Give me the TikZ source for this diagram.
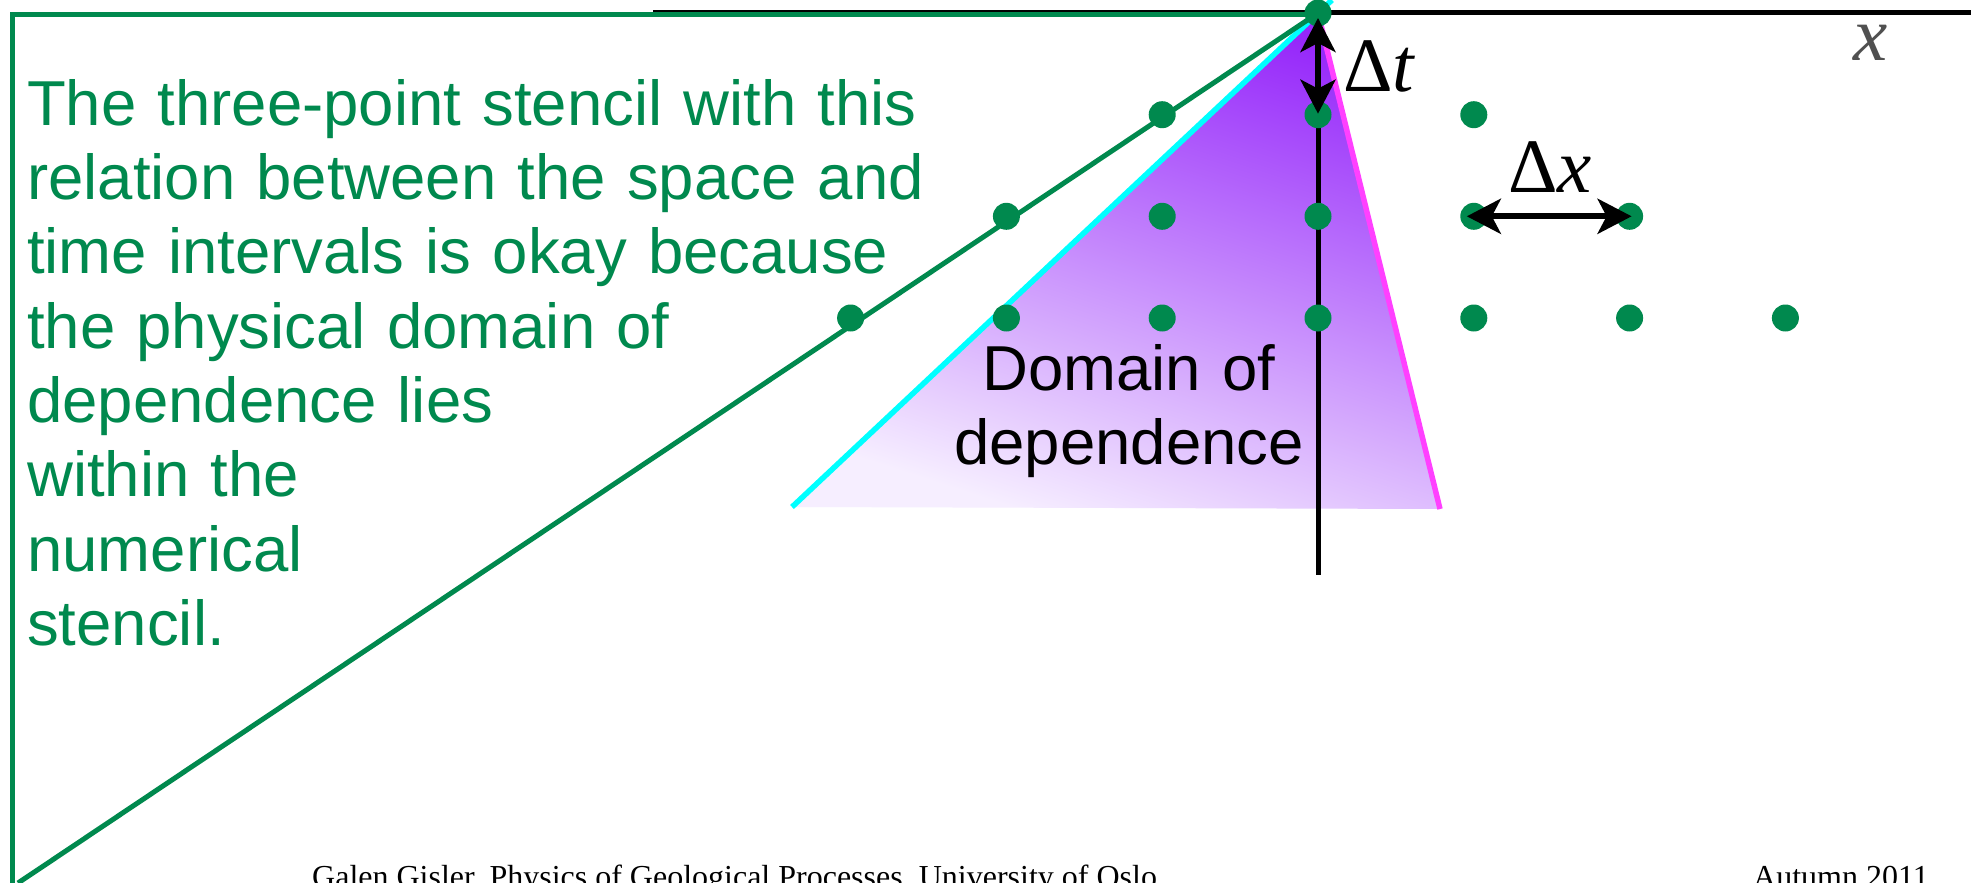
\documentclass[tikz,border=0pt]{standalone}
\usepackage{fontspec}
\setmainfont{Liberation Serif}
\newfontfamily\arialf{Liberation Sans}
\usetikzlibrary{arrows.meta}
\definecolor{sgreen}{RGB}{0,137,78}
\definecolor{ptop}{RGB}{150,40,250}
\definecolor{pmid}{RGB}{208,160,250}
\definecolor{pbot}{RGB}{246,238,255}
\definecolor{xgray}{RGB}{80,80,80}
\definecolor{cyanl}{RGB}{0,255,255}
\definecolor{magl}{RGB}{255,64,255}
\begin{document}
\begin{tikzpicture}[x=1pt,y=-1pt,
  dot/.style={circle,fill=sgreen,inner sep=0pt,minimum size=27pt},
  frameline/.style={draw=sgreen,line width=5pt},
  axisline/.style={draw=black,line width=5pt},
  edgeline/.style={line width=5.5pt},
  dbl/.style={line width=6pt,{Stealth[length=34pt,width=35pt,inset=9pt]}-{Stealth[length=34pt,width=35pt,inset=9pt]}},
  sans/.style={font=\arialf\fontsize{63.5}{74.4}\selectfont,inner sep=0pt},
  lbl/.style={font=\fontsize{77}{80}\selectfont,inner sep=0pt,anchor=base west},
  foot/.style={font=\fontsize{32}{36}\selectfont,inner sep=0pt,anchor=base west}]
\useasboundingbox (0,0) rectangle (1971,883);
\fill[white] (0,0) rectangle (1971,883);
% key points
\coordinate (A) at (1318,13);
\coordinate (BL) at (792,507);
\coordinate (BR) at (1440,509);
\coordinate (ctop) at (1332,0);
\coordinate (axL) at (653,13);
\coordinate (axR) at (1971,13);
\coordinate (fbl) at (12,883);
\coordinate (ftl) at (12,15);
\coordinate (ftr) at (1318,15);
\coordinate (vb) at (1318,575);
\coordinate (gd) at (18,883);
% domain of dependence
\shade[top color=ptop, middle color=pmid, bottom color=pbot, shading angle=-18] (A) -- (BL) -- (BR) -- cycle;
\draw[edgeline, draw=cyanl] (BL) -- (ctop);
\draw[edgeline, draw=magl] (BR) -- (A);
% axes and frame
\draw[axisline] (axL) -- (axR);
\draw[frameline] (fbl) -- (ftl) -- (ftr);
\draw[axisline] (A) -- (vb);
\draw[frameline] (A) -- (gd);
% grid points
\node[dot] (r00) at (A) {};
\foreach \i/\n in {-1/m1,0/0,1/1}
  \node[dot] (r1\n) at ({1318+\i*155.8},114.7) {};
\foreach \i/\n in {-2/m2,-1/m1,0/0,1/1,2/2}
  \node[dot] (r2\n) at ({1318+\i*155.8},216.3) {};
\foreach \i/\n in {-3/m3,-2/m2,-1/m1,0/0,1/1,2/2,3/3}
  \node[dot] (r3\n) at ({1318+\i*155.8},318) {};
% interval arrows
\draw[dbl, shorten <=5pt, shorten >=1pt] (r00.center) -- (r10.center);
\draw[dbl, shorten <=-7pt, shorten >=-2pt] (r21.center) -- (r22.center);
% labels
\node[lbl] (dt) at (1343,92) {Δ\textit{t}};
\node[lbl] (dx) at (1508,192) {Δ\textit{x}};
\node[lbl, text=xgray] (xl) at (1853,60) {\textit{x}};
\node[sans, align=center, text width=420pt, anchor=base] (dom) at (1129,390) {Domain of\\dependence};
\node[sans, text=sgreen, align=left, text width=950pt, anchor=base west] (txt) at (27,125)
  {The three-point stencil with this\\relation between the space and\\time intervals is okay because\\the physical domain of\\dependence lies\\within the\\numerical\\stencil.};
\node[foot] (f1) at (312,887) {Galen Gisler, Physics of Geological Processes, University of Oslo};
\node[foot] (f2) at (1753,887) {Autumn 2011};
\end{tikzpicture}
\end{document}
